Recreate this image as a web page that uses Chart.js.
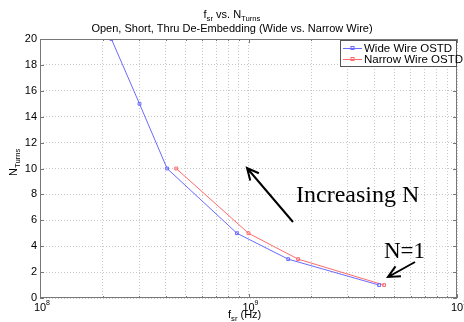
<!DOCTYPE html>
<html>
<head>
<meta charset="utf-8">
<script src="https://cdn.jsdelivr.net/npm/chart.js@4.4.1/dist/chart.umd.min.js"></script>
<style>
  html, body { margin: 0; padding: 0; background: #fff; }
  #wrap { width: 464px; height: 322px; }
</style>
</head>
<body>
<div id="wrap"><canvas id="myChart" width="464" height="322"></canvas></div>
<script>
// data
const wideFreq = [2.2e8, 3.0e8, 4.07e8, 8.8e8, 1.55e9, 4.23e9];
const wideTurns = [20, 15, 10, 5, 3, 1];
const narrowFreq = [4.5e8, 1.0e9, 1.73e9, 4.47e9];
const narrowTurns = [10, 5, 3, 1];
const yTicks = [0, 2, 4, 6, 8, 10, 12, 14, 16, 18, 20];
const xDecades = [8, 9, 10];

const blue = '#6b6bff';
const red = '#ff6b6b';
const sans = '"Liberation Sans", Arial, sans-serif';
const serif = '"Liberation Serif", "Times New Roman", serif';

function toPoints(xs, ys) {
    return xs.map((x, i) => ({ x: x, y: ys[i] }));
}

// all 1..9 x 10^n positions for the log grid
const xGrid = [];
for (let d = xDecades[0]; d < xDecades[xDecades.length - 1]; d++) {
    for (let m = 1; m < 10; m++) xGrid.push(m * Math.pow(10, d));
}
xGrid.push(Math.pow(10, xDecades[xDecades.length - 1]));

// text with a subscript part, drawn centered at (x, y)
function subText(ctx, base, sub, rest, x, y, size) {
    ctx.font = size + 'px ' + sans;
    const w1 = ctx.measureText(base).width;
    ctx.font = (size * 0.7) + 'px ' + sans;
    const w2 = ctx.measureText(sub).width;
    ctx.font = size + 'px ' + sans;
    const w3 = ctx.measureText(rest).width;
    let sx = x - (w1 + w2 + w3) / 2;
    ctx.textAlign = 'left';
    ctx.textBaseline = 'alphabetic';
    ctx.fillText(base, sx, y);
    ctx.font = (size * 0.7) + 'px ' + sans;
    ctx.fillText(sub, sx + w1, y + size * 0.3);
    ctx.font = size + 'px ' + sans;
    ctx.fillText(rest, sx + w1 + w2, y);
}

function arrow(ctx, x1, y1, x2, y2, head) {
    const a = Math.atan2(y2 - y1, x2 - x1);
    ctx.beginPath();
    ctx.moveTo(x1, y1);
    ctx.lineTo(x2, y2);
    ctx.moveTo(x2 - head * Math.cos(a - 0.45), y2 - head * Math.sin(a - 0.45));
    ctx.lineTo(x2, y2);
    ctx.lineTo(x2 - head * Math.cos(a + 0.45), y2 - head * Math.sin(a + 0.45));
    ctx.stroke();
}

const decorPlugin = {
    id: 'decor',
    beforeDraw(chart) {
        const ctx = chart.ctx;
        ctx.save();
        ctx.fillStyle = '#fff';
        ctx.fillRect(0, 0, chart.width, chart.height);
        ctx.restore();
    },
    afterDraw(chart) {
        const ctx = chart.ctx;
        const a = chart.chartArea;
        const xs = chart.scales.x;
        const ys = chart.scales.y;
        ctx.save();
        ctx.fillStyle = '#000';

        // titles
        subText(ctx, 'f', 'sr', ' vs. N', 0, -100, 11);
        ctx.font = '11px ' + sans;
        const t1 = 'f', t1s = 'sr', t2 = ' vs. N', t2s = 'Turns';
        const w = ctx.measureText(t1).width + ctx.measureText(t2).width;
        ctx.font = '7.7px ' + sans;
        const ws = ctx.measureText(t1s).width + ctx.measureText(t2s).width;
        let sx = 232 - (w + ws) / 2;
        ctx.textAlign = 'left';
        ctx.textBaseline = 'alphabetic';
        ctx.font = '11px ' + sans; ctx.fillText(t1, sx, 18); sx += ctx.measureText(t1).width;
        ctx.font = '7.7px ' + sans; ctx.fillText(t1s, sx, 21); sx += ctx.measureText(t1s).width;
        ctx.font = '11px ' + sans; ctx.fillText(t2, sx, 18); sx += ctx.measureText(t2).width;
        ctx.font = '7.7px ' + sans; ctx.fillText(t2s, sx, 21);
        ctx.font = '11px ' + sans;
        ctx.textAlign = 'center';
        ctx.fillText('Open, Short, Thru De-Embedding (Wide vs. Narrow Wire)', 232, 32);

        // box and ticks
        ctx.strokeStyle = '#777';
        ctx.lineWidth = 1;
        ctx.strokeRect(a.left + 0.5, a.top + 0.5, a.right - a.left - 1, a.bottom - a.top - 1);
        ctx.beginPath();
        xGrid.forEach(v => {
            const px = Math.round(xs.getPixelForValue(v)) + 0.5;
            const len = Math.log10(v) % 1 === 0 ? 4 : 2;
            ctx.moveTo(px, a.bottom); ctx.lineTo(px, a.bottom - len);
            ctx.moveTo(px, a.top); ctx.lineTo(px, a.top + len);
        });
        yTicks.forEach(v => {
            const py = Math.round(ys.getPixelForValue(v)) + 0.5;
            ctx.moveTo(a.left, py); ctx.lineTo(a.left + 4, py);
            ctx.moveTo(a.right, py); ctx.lineTo(a.right - 4, py);
        });
        ctx.stroke();

        // x decade labels with superscripts
        xDecades.forEach(d => {
            const px = xs.getPixelForValue(Math.pow(10, d));
            ctx.font = '11px ' + sans;
            ctx.textAlign = 'center';
            ctx.fillText('10', px, a.bottom + 13);
            ctx.font = '7px ' + sans;
            ctx.textAlign = 'left';
            ctx.fillText(String(d), px + 6, a.bottom + 7);
        });

        // axis titles
        ctx.font = '11px ' + sans;
        ctx.textAlign = 'left';
        let lx = 228;
        ctx.fillText('f', lx, 318); lx += ctx.measureText('f').width;
        ctx.font = '7.7px ' + sans; ctx.fillText('sr', lx, 321); lx += ctx.measureText('sr').width;
        ctx.font = '11px ' + sans; ctx.fillText(' (Hz)', lx, 318);

        ctx.save();
        ctx.translate(17, 168);
        ctx.rotate(-Math.PI / 2);
        let ly = -ctx.measureText('N').width;
        ctx.font = '11px ' + sans; ctx.fillText('N', ly, 0); ly += ctx.measureText('N').width;
        ctx.font = '7.7px ' + sans; ctx.fillText('Turns', ly, 3);
        ctx.restore();

        // legend
        const lx0 = 340, ly0 = 40, lw = a.right - lx0, lh = 27;
        ctx.fillStyle = '#fff';
        ctx.fillRect(lx0, ly0, lw, lh);
        ctx.strokeStyle = '#555';
        ctx.strokeRect(lx0 + 0.5, ly0 + 0.5, lw - 1, lh - 1);
        [[blue, 'Wide Wire OSTD', ly0 + 8], [red, 'Narrow Wire OSTD', ly0 + 19]].forEach(it => {
            ctx.strokeStyle = it[0];
            ctx.beginPath();
            ctx.moveTo(lx0 + 3, it[2] + 0.5); ctx.lineTo(lx0 + 22, it[2] + 0.5);
            ctx.stroke();
            ctx.strokeRect(lx0 + 11, it[2] - 1.5, 3, 3);
            ctx.fillStyle = '#000';
            ctx.font = '11.5px ' + sans;
            ctx.textAlign = 'left';
            ctx.textBaseline = 'middle';
            ctx.fillText(it[1], lx0 + 24, it[2] + 1);
        });

        // annotations
        ctx.strokeStyle = '#000';
        ctx.fillStyle = '#000';
        ctx.lineWidth = 2;
        arrow(ctx, 293, 222, 247, 168, 13);
        arrow(ctx, 415, 262, 388, 277, 13);
        ctx.textBaseline = 'alphabetic';
        ctx.textAlign = 'left';
        ctx.font = '24px ' + serif;
        ctx.fillText('Increasing N', 296, 202);
        ctx.font = '23px ' + serif;
        ctx.fillText('N=1', 384, 258);
        ctx.restore();
    }
};

const ctx = document.getElementById('myChart').getContext('2d');
new Chart(ctx, {
    type: 'scatter',
    data: {
        datasets: [{
            label: 'Wide Wire OSTD',
            data: toPoints(wideFreq, wideTurns),
            showLine: true,
            borderColor: blue,
            backgroundColor: 'rgba(0,0,0,0)',
            borderWidth: 1,
            pointStyle: 'rect',
            pointRadius: 2,
            pointBorderWidth: 1,
            pointBorderColor: blue
        }, {
            label: 'Narrow Wire OSTD',
            data: toPoints(narrowFreq, narrowTurns),
            showLine: true,
            borderColor: red,
            backgroundColor: 'rgba(0,0,0,0)',
            borderWidth: 1,
            pointStyle: 'rect',
            pointRadius: 2,
            pointBorderWidth: 1,
            pointBorderColor: red
        }]
    },
    options: {
        responsive: false,
        animation: false,
        layout: { padding: { left: 0, top: 39, right: 7, bottom: 0 } },
        plugins: { legend: { display: false }, tooltip: { enabled: false } },
        scales: {
            x: {
                type: 'logarithmic',
                min: 1e8,
                max: 1e10,
                afterBuildTicks: s => { s.ticks = xGrid.map(v => ({ value: v })); },
                afterFit: s => { s.height = 24; },
                ticks: { callback: () => '', autoSkip: false },
                grid: { color: '#c8c8c8', lineWidth: 1, drawTicks: false, tickBorderDash: [1, 2] },
                border: { display: false, dash: [1, 2] }
            },
            y: {
                min: 0,
                max: 20,
                afterBuildTicks: s => { s.ticks = yTicks.map(v => ({ value: v })); },
                afterFit: s => { s.width = 40; },
                ticks: { color: '#000', font: { family: sans, size: 11 }, padding: 3 },
                grid: { color: '#c8c8c8', lineWidth: 1, drawTicks: false },
                border: { display: false, dash: [1, 2] }
            }
        }
    },
    plugins: [decorPlugin]
});
</script>
</body>
</html>
